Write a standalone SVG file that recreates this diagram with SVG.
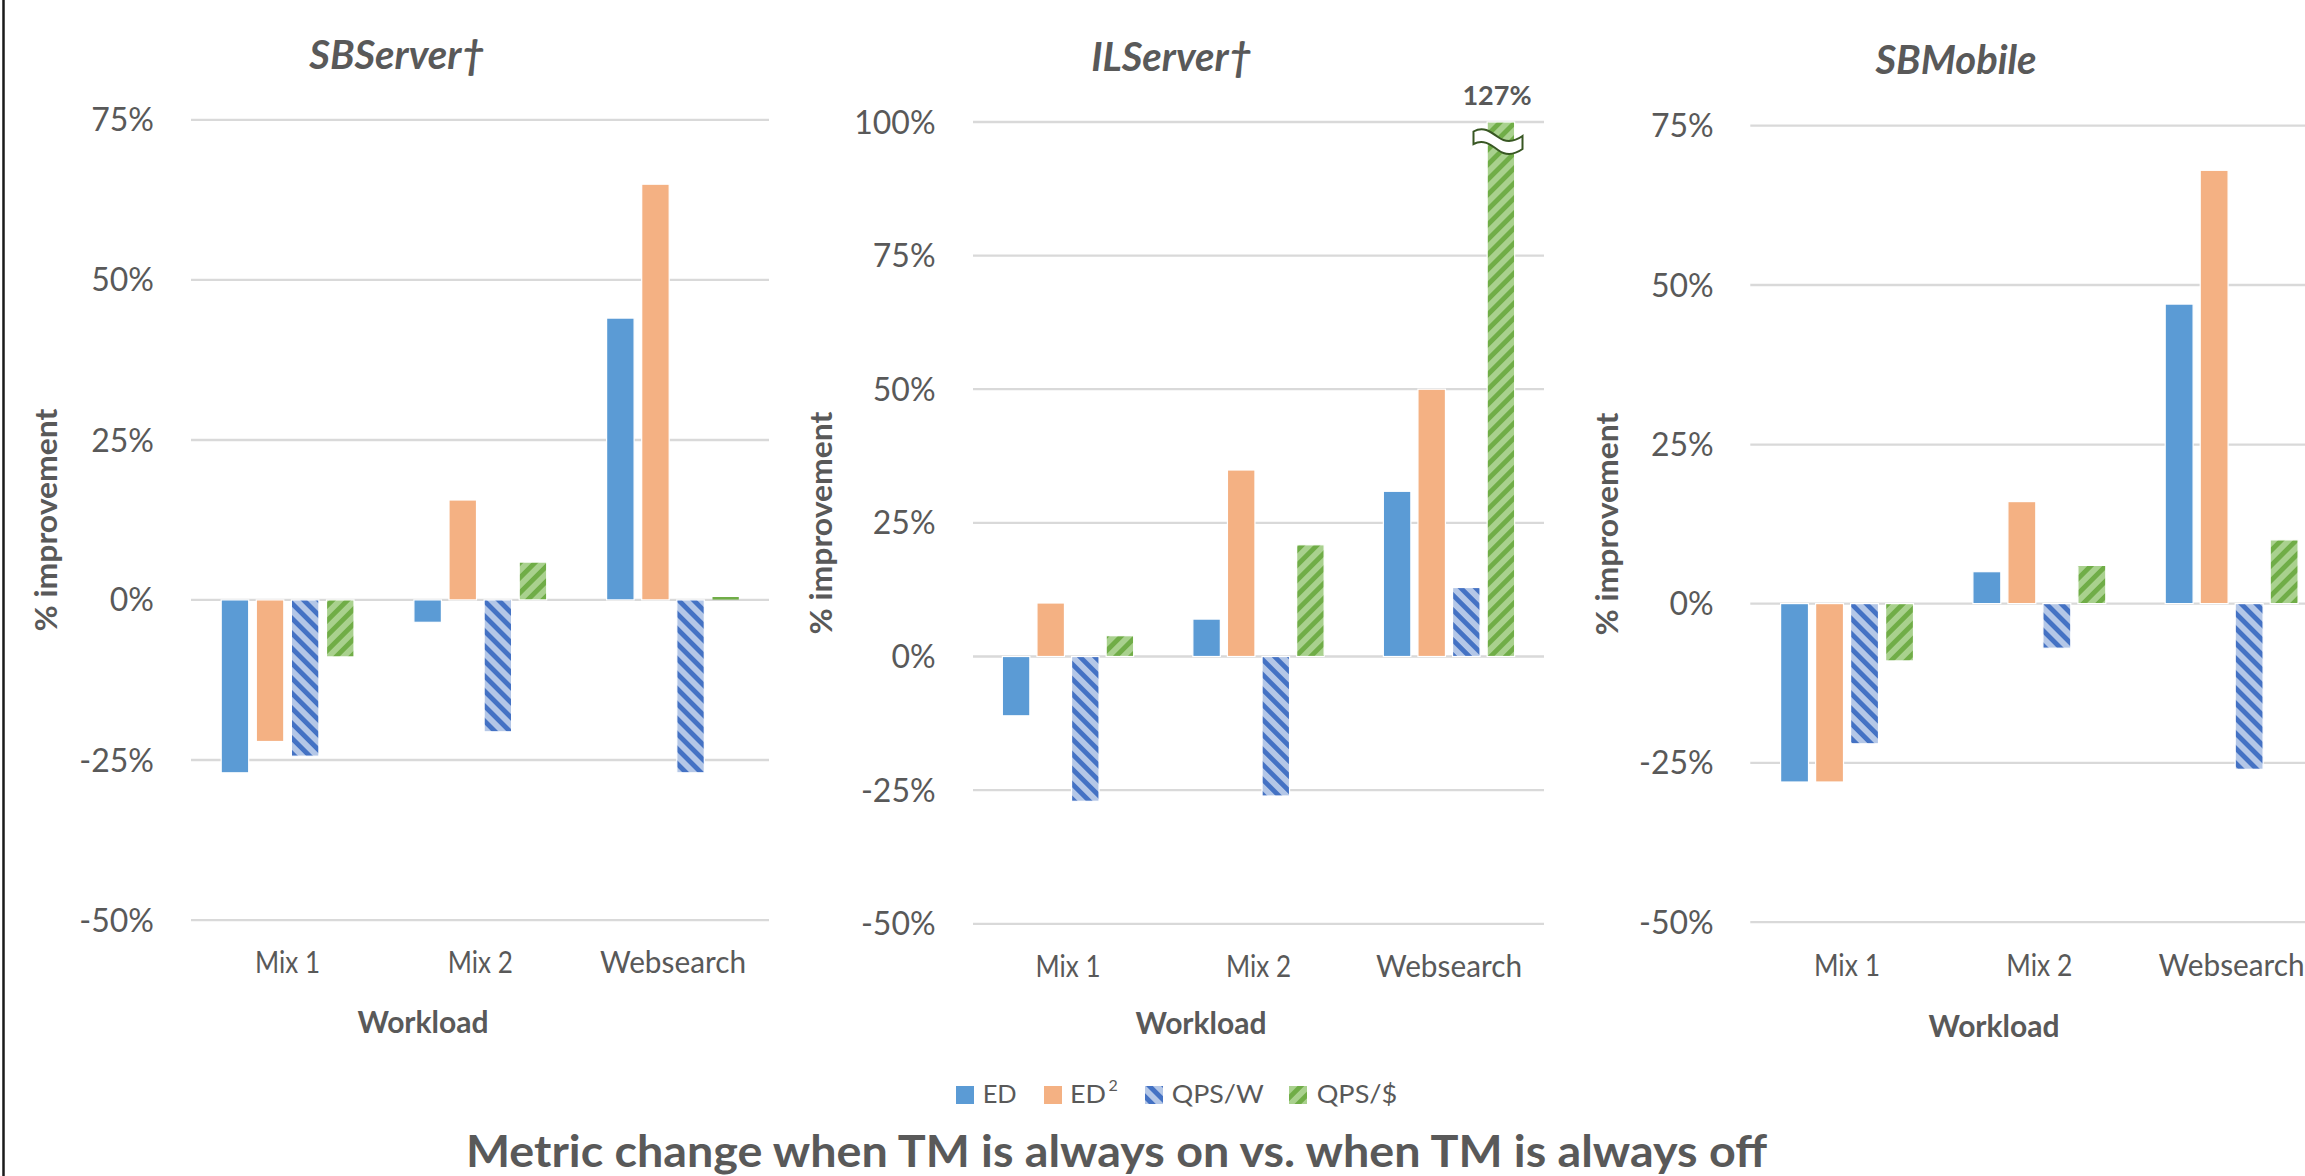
<svg xmlns="http://www.w3.org/2000/svg" width="2305" height="1176" viewBox="0 0 2305 1176">
  <style>
    text { font-family: Lato, "Liberation Sans", sans-serif; fill: #595959; }
    .tick { font-size: 32px; font-weight: 400; text-anchor: end; }
    .cat { font-size: 30px; font-weight: 400; text-anchor: middle; }
    .title { font-size: 40px; font-weight: 700; font-style: italic; text-anchor: middle; }
    .axt { font-size: 30px; font-weight: 700; text-anchor: middle; }
    .leg { font-size: 25px; font-weight: 400; }
    .main { font-size: 44px; font-weight: 700; }
    .grid line { stroke: #d9d9d9; stroke-width: 2.3; }
    .bars rect { stroke: #ffffff; stroke-width: 1.2; }
    .bars rect.thin { stroke: none; }
    .ed { fill: #5b9bd5; }
    .ed2 { fill: #f4b183; }
    .qw { fill: url(#hatchW); }
    .qd { fill: url(#hatchD); }
  </style>
  <defs>
    <!-- QPS/W: blue downward diagonal stripes -->
    <pattern id="hatchW" patternUnits="userSpaceOnUse" width="10.6" height="10.6" patternTransform="rotate(-45)">
      <rect width="10.6" height="10.6" fill="#b4c7e7"/>
      <rect width="4.8" height="10.6" fill="#4472c4"/>
    </pattern>
    <!-- QPS/$: green upward diagonal stripes -->
    <pattern id="hatchD" patternUnits="userSpaceOnUse" width="10.6" height="10.6" patternTransform="rotate(45)">
      <rect width="10.6" height="10.6" fill="#a9d18e"/>
      <rect width="4.8" height="10.6" fill="#70ad47"/>
    </pattern>
  </defs>

  <rect width="2305" height="1176" fill="#ffffff"/>
  <!-- frame edge -->
  <line x1="3.5" y1="0" x2="3.5" y2="1176" stroke="#1a1a1a" stroke-width="2.5"/>

  <!-- ============ SBServer† ============ -->
  <g id="chart-sbserver">
    <text class="title" x="397" y="69">SBServer†</text>
    <g class="grid">
      <line x1="191" y1="119.8" x2="769" y2="119.8"/>
      <line x1="191" y1="279.9" x2="769" y2="279.9"/>
      <line x1="191" y1="440" x2="769" y2="440"/>
      <line x1="191" y1="599.9" x2="769" y2="599.9"/>
      <line x1="191" y1="760" x2="769" y2="760"/>
      <line x1="191" y1="920.1" x2="769" y2="920.1"/>
    </g>
    <g>
      <text class="tick" x="154" y="131.3">75%</text>
      <text class="tick" x="154" y="291.4">50%</text>
      <text class="tick" x="154" y="451.5">25%</text>
      <text class="tick" x="154" y="611.4">0%</text>
      <text class="tick" x="154" y="771.5">-25%</text>
      <text class="tick" x="154" y="931.6">-50%</text>
    </g>
    <g class="bars">
      <rect class="ed" x="221.2" y="599.9" width="27.5" height="172.9"/>
      <rect class="ed2" x="256.3" y="599.9" width="27.5" height="141.6"/>
      <rect class="qw" x="291.4" y="599.9" width="27.5" height="156.3"/>
      <rect class="qd" x="326.5" y="599.9" width="27.5" height="57"/>

      <rect class="ed" x="413.9" y="599.9" width="27.5" height="22.4"/>
      <rect class="ed2" x="449" y="500" width="27.5" height="99.9"/>
      <rect class="qw" x="484.1" y="599.9" width="27.5" height="131.9"/>
      <rect class="qd" x="519.2" y="562.1" width="27.5" height="37.8"/>

      <rect class="ed" x="606.6" y="318.1" width="27.5" height="281.8"/>
      <rect class="ed2" x="641.7" y="184.2" width="27.5" height="415.7"/>
      <rect class="qw" x="676.8" y="599.9" width="27.5" height="172.9"/>
      <rect class="thin" x="712.5" y="597" width="26.3" height="2.6" fill="#70ad47"/>
    </g>
    <text class="cat" x="287.6" y="973" textLength="65" lengthAdjust="spacingAndGlyphs">Mix 1</text>
    <text class="cat" x="480.3" y="973" textLength="65" lengthAdjust="spacingAndGlyphs">Mix 2</text>
    <text class="cat" x="673" y="973" textLength="146" lengthAdjust="spacingAndGlyphs">Websearch</text>
    <text class="axt" x="423" y="1033">Workload</text>
    <text class="axt" transform="translate(57,520) rotate(-90)" textLength="223" lengthAdjust="spacingAndGlyphs">% improvement</text>
  </g>

  <!-- ============ ILServer† ============ -->
  <g id="chart-ilserver">
    <text class="title" x="1171.5" y="71">ILServer†</text>
    <g class="grid">
      <line x1="973" y1="122" x2="1544" y2="122"/>
      <line x1="973" y1="255.7" x2="1544" y2="255.7"/>
      <line x1="973" y1="389.2" x2="1544" y2="389.2"/>
      <line x1="973" y1="522.9" x2="1544" y2="522.9"/>
      <line x1="973" y1="656.5" x2="1544" y2="656.5"/>
      <line x1="973" y1="790.1" x2="1544" y2="790.1"/>
      <line x1="973" y1="923.8" x2="1544" y2="923.8"/>
    </g>
    <g>
      <text class="tick" x="935.6" y="133.5">100%</text>
      <text class="tick" x="935.6" y="267.2">75%</text>
      <text class="tick" x="935.6" y="400.7">50%</text>
      <text class="tick" x="935.6" y="534.4">25%</text>
      <text class="tick" x="935.6" y="668">0%</text>
      <text class="tick" x="935.6" y="801.6">-25%</text>
      <text class="tick" x="935.6" y="935.3">-50%</text>
    </g>
    <g class="bars">
      <rect class="ed" x="1002.35" y="656.5" width="27.5" height="59.3"/>
      <rect class="ed2" x="1036.95" y="603" width="27.5" height="53.5"/>
      <rect class="qw" x="1071.55" y="656.5" width="27.5" height="144.8"/>
      <rect class="qd" x="1106.15" y="635.7" width="27.5" height="20.8"/>

      <rect class="ed" x="1192.85" y="619.1" width="27.5" height="37.4"/>
      <rect class="ed2" x="1227.45" y="470" width="27.5" height="186.5"/>
      <rect class="qw" x="1262.05" y="656.5" width="27.5" height="139.5"/>
      <rect class="qd" x="1296.65" y="544.8" width="27.5" height="111.7"/>

      <rect class="ed" x="1383.35" y="491.3" width="27.5" height="165.2"/>
      <rect class="ed2" x="1417.95" y="389.2" width="27.5" height="267.3"/>
      <rect class="qw" x="1452.55" y="587.5" width="27.5" height="69"/>
      <rect class="qd" x="1487.15" y="122" width="27.5" height="534.5"/>
    </g>
    <!-- axis break on the clipped bar -->
    <path d="M1473.5,131.5 C1483,126 1490,131 1498,137 C1506,143 1514,142 1522.5,136 L1522.5,149 C1514,155 1506,156 1498,150 C1490,144 1483,139 1473.5,144 Z" fill="#ffffff" stroke="#385723" stroke-width="2"/>
    <text x="1497" y="104.5" font-size="27" font-weight="700" text-anchor="middle">127%</text>
    <text class="cat" x="1068" y="977" textLength="65" lengthAdjust="spacingAndGlyphs">Mix 1</text>
    <text class="cat" x="1258.5" y="977" textLength="65" lengthAdjust="spacingAndGlyphs">Mix 2</text>
    <text class="cat" x="1449" y="977" textLength="146" lengthAdjust="spacingAndGlyphs">Websearch</text>
    <text class="axt" x="1201" y="1034">Workload</text>
    <text class="axt" transform="translate(832,523) rotate(-90)" textLength="223" lengthAdjust="spacingAndGlyphs">% improvement</text>
  </g>

  <!-- ============ SBMobile ============ -->
  <g id="chart-sbmobile">
    <text class="title" x="1956" y="73.5">SBMobile</text>
    <g class="grid">
      <line x1="1750.3" y1="125.7" x2="2305" y2="125.7"/>
      <line x1="1750.3" y1="285" x2="2305" y2="285"/>
      <line x1="1750.3" y1="444.6" x2="2305" y2="444.6"/>
      <line x1="1750.3" y1="603.6" x2="2305" y2="603.6"/>
      <line x1="1750.3" y1="762.9" x2="2305" y2="762.9"/>
      <line x1="1750.3" y1="922.2" x2="2305" y2="922.2"/>
    </g>
    <g>
      <text class="tick" x="1713.7" y="137.2">75%</text>
      <text class="tick" x="1713.7" y="296.5">50%</text>
      <text class="tick" x="1713.7" y="456.1">25%</text>
      <text class="tick" x="1713.7" y="615.1">0%</text>
      <text class="tick" x="1713.7" y="774.4">-25%</text>
      <text class="tick" x="1713.7" y="933.7">-50%</text>
    </g>
    <g class="bars">
      <rect class="ed" x="1780.6" y="603.6" width="27.9" height="178.4"/>
      <rect class="ed2" x="1815.6" y="603.6" width="27.9" height="178.4"/>
      <rect class="qw" x="1850.6" y="603.6" width="27.9" height="140.2"/>
      <rect class="qd" x="1885.6" y="603.6" width="27.9" height="57.3"/>

      <rect class="ed" x="1972.9" y="571.7" width="27.9" height="31.9"/>
      <rect class="ed2" x="2007.9" y="501.6" width="27.9" height="102"/>
      <rect class="qw" x="2042.9" y="603.6" width="27.9" height="44.6"/>
      <rect class="qd" x="2077.9" y="565.4" width="27.9" height="38.2"/>

      <rect class="ed" x="2165.2" y="304.1" width="27.9" height="299.5"/>
      <rect class="ed2" x="2200.2" y="170.3" width="27.9" height="433.3"/>
      <rect class="qw" x="2235.2" y="603.6" width="27.9" height="165.7"/>
      <rect class="qd" x="2270.2" y="539.9" width="27.9" height="63.7"/>
    </g>
    <text class="cat" x="1847" y="975.7" textLength="66" lengthAdjust="spacingAndGlyphs">Mix 1</text>
    <text class="cat" x="2039.3" y="975.7" textLength="66" lengthAdjust="spacingAndGlyphs">Mix 2</text>
    <text class="cat" x="2231.6" y="975.7" textLength="146" lengthAdjust="spacingAndGlyphs">Websearch</text>
    <text class="axt" x="1994" y="1037">Workload</text>
    <text class="axt" transform="translate(1618,524) rotate(-90)" textLength="223" lengthAdjust="spacingAndGlyphs">% improvement</text>
  </g>

  <!-- ============ shared legend ============ -->
  <g id="legend">
    <rect class="ed" x="956" y="1086" width="18" height="18"/>
    <text class="leg" x="982.7" y="1103.3" textLength="34" lengthAdjust="spacingAndGlyphs">ED</text>
    <rect class="ed2" x="1044" y="1086" width="18" height="18"/>
    <text class="leg" x="1070" y="1103.3"><tspan textLength="36" lengthAdjust="spacingAndGlyphs">ED</tspan><tspan x="1108.5" font-size="16" dy="-12">2</tspan></text>
    <rect class="qw" x="1145" y="1086" width="18" height="18"/>
    <text class="leg" x="1171.7" y="1103.3" textLength="92" lengthAdjust="spacingAndGlyphs">QPS/W</text>
    <rect class="qd" x="1289" y="1086" width="18" height="18"/>
    <text class="leg" x="1316.7" y="1103.3" textLength="80.6" lengthAdjust="spacingAndGlyphs">QPS/$</text>
  </g>

  <g id="caption">
    <text class="main" x="466" y="1166.5" textLength="1301" lengthAdjust="spacingAndGlyphs">Metric change when TM is always on vs. when TM is always off</text>
  </g>
</svg>
